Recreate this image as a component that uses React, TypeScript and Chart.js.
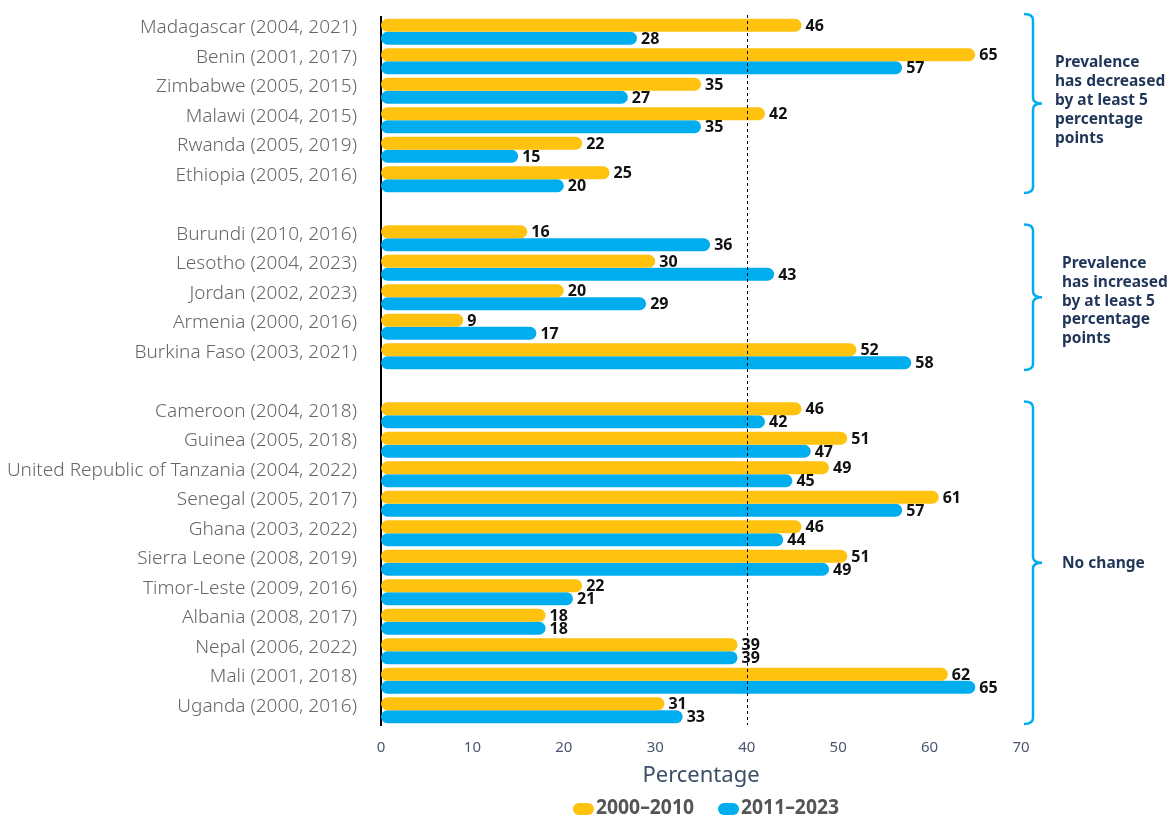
import React, { useEffect, useRef } from 'react';
import { Chart, registerables } from 'chart.js';

Chart.register(...registerables);

const categories = [
  'Madagascar (2004, 2021)',
  'Benin (2001, 2017)',
  'Zimbabwe (2005, 2015)',
  'Malawi (2004, 2015)',
  'Rwanda (2005, 2019)',
  'Ethiopia (2005, 2016)',
  '',
  'Burundi (2010, 2016)',
  'Lesotho (2004, 2023)',
  'Jordan (2002, 2023)',
  'Armenia (2000, 2016)',
  'Burkina Faso (2003, 2021)',
  '',
  'Cameroon (2004, 2018)',
  'Guinea (2005, 2018)',
  'United Republic of Tanzania (2004, 2022)',
  'Senegal (2005, 2017)',
  'Ghana (2003, 2022)',
  'Sierra Leone (2008, 2019)',
  'Timor-Leste (2009, 2016)',
  'Albania (2008, 2017)',
  'Nepal (2006, 2022)',
  'Mali (2001, 2018)',
  'Uganda (2000, 2016)',
];

const series1Label = '2000–2010';
const series1 = [46, 65, 35, 42, 22, 25, null, 16, 30, 20, 9, 52, null, 46, 51, 49, 61, 46, 51, 22, 18, 39, 62, 31];

const series2Label = '2011–2023';
const series2 = [28, 57, 27, 35, 15, 20, null, 36, 43, 29, 17, 58, null, 42, 47, 45, 57, 44, 49, 21, 18, 39, 65, 33];

const xMin = 0;
const xMax = 70;
const xStep = 10;
const xTitle = 'Percentage';
const referenceValue = 40;

const groupRanges = [
  [0, 5],
  [7, 11],
  [13, 23],
];
const groupTexts = [
  ['Prevalence', 'has decreased', 'by at least 5', 'percentage', 'points'],
  ['Prevalence', 'has increased', 'by at least 5', 'percentage', 'points'],
  ['No change'],
];

const YELLOW = '#FFC20E';
const BLUE = '#00AEEF';
const NAVY = '#1f3659';

const overlayPlugin = {
  id: 'overlay',
  afterDatasetsDraw(chart: any) {
    const { ctx, chartArea, scales } = chart;
    const x = scales.x;
    const y = scales.y;

    // reference dashed line
    ctx.save();
    const rx = Math.round(x.getPixelForValue(referenceValue)) + 0.5;
    ctx.strokeStyle = '#000';
    ctx.lineWidth = 1;
    ctx.setLineDash([3, 3]);
    ctx.beginPath();
    ctx.moveTo(rx, chartArea.top - 2);
    ctx.lineTo(rx, chartArea.bottom);
    ctx.stroke();
    ctx.restore();

    // value labels
    ctx.save();
    ctx.font = 'bold 16px "Noto Sans"';
    ctx.fillStyle = '#111';
    ctx.textAlign = 'left';
    ctx.textBaseline = 'middle';
    chart.data.datasets.forEach((ds: any, di: number) => {
      const meta = chart.getDatasetMeta(di);
      meta.data.forEach((el: any, i: number) => {
        const v = ds.data[i];
        if (v === null || v === undefined) return;
        ctx.fillText(String(v), el.x + 4, el.y + 1);
      });
    });
    ctx.restore();

    // braces + group texts
    ctx.save();
    const step = y.getPixelForValue(1) - y.getPixelForValue(0);
    groupRanges.forEach((rg, gi) => {
      const top = y.getPixelForValue(rg[0]) - step * 0.47 - (gi === 0 ? 4 : 0);
      const bot = y.getPixelForValue(rg[1]) + step * 0.47;
      const mid = (top + bot) / 2;
      const bx = chartArea.right + 12;
      const r = 6;
      ctx.strokeStyle = BLUE;
      ctx.lineWidth = 2.5;
      ctx.setLineDash([]);
      ctx.beginPath();
      ctx.moveTo(bx - 9, top);
      ctx.quadraticCurveTo(bx, top, bx, top + r);
      ctx.lineTo(bx, mid - r);
      ctx.quadraticCurveTo(bx, mid, bx + 9, mid);
      ctx.quadraticCurveTo(bx, mid, bx, mid + r);
      ctx.lineTo(bx, bot - r);
      ctx.quadraticCurveTo(bx, bot, bx - 9, bot);
      ctx.stroke();

      const lines = groupTexts[gi];
      const lh = 18.8;
      ctx.font = 'bold 15.5px "Noto Sans"';
      ctx.fillStyle = NAVY;
      ctx.textAlign = 'left';
      ctx.textBaseline = 'middle';
      const tx = gi === 0 ? bx + 22 : bx + 29;
      const startY = mid - ((lines.length - 1) * lh) / 2 + (gi === 0 ? -3 : gi === 1 ? 4 : 1);
      lines.forEach((ln, li) => ctx.fillText(ln, tx, startY + li * lh));
    });
    ctx.restore();

    // legend, centred under the plot area
    ctx.save();
    const items = [
      { label: series1Label, color: YELLOW },
      { label: series2Label, color: BLUE },
    ];
    const squeeze = 0.92;
    ctx.font = 'bold 21px "Noto Sans"';
    ctx.textBaseline = 'middle';
    ctx.textAlign = 'left';
    const mw = 21;
    const mh = 12;
    const gapText = 2;
    const gapItem = 24;
    const widths = items.map((it) => ctx.measureText(it.label).width * squeeze);
    const total = widths.reduce((a, w) => a + mw + gapText + w, 0) + gapItem * (items.length - 1);
    let lx = (chartArea.left + chartArea.right) / 2 + 5 - total / 2;
    const ly = 808;
    items.forEach((it, k) => {
      ctx.fillStyle = it.color;
      ctx.beginPath();
      (ctx as any).roundRect(lx, ly - mh / 2 + 1, mw, mh, mh / 2);
      ctx.fill();
      ctx.fillStyle = '#555';
      ctx.save();
      ctx.translate(lx + mw + gapText, ly);
      ctx.scale(squeeze, 1);
      ctx.fillText(it.label, 0, 0);
      ctx.restore();
      lx += mw + gapText + widths[k] + gapItem;
    });
    ctx.restore();
  },
};

export default function App() {
  const canvasRef = useRef<HTMLCanvasElement | null>(null);

  useEffect(() => {
    if (!canvasRef.current) return;
    const chart = new Chart(canvasRef.current, {
      type: 'bar',
      data: {
        labels: categories,
        datasets: [
          {
            label: series1Label,
            data: series1,
            backgroundColor: YELLOW,
            borderRadius: 7,
            borderSkipped: false,
            barPercentage: 1,
            categoryPercentage: 0.88,
          },
          {
            label: series2Label,
            data: series2,
            backgroundColor: BLUE,
            borderRadius: 7,
            borderSkipped: false,
            barPercentage: 1,
            categoryPercentage: 0.88,
          },
        ],
      },
      options: {
        indexAxis: 'y',
        animation: false,
        responsive: true,
        maintainAspectRatio: false,
        layout: { padding: { top: 17, right: 149, bottom: 0, left: 0 } },
        plugins: {
          legend: { display: false },
          tooltip: { enabled: false },
        },
        scales: {
          x: {
            min: xMin,
            max: xMax,
            grid: { display: false, drawTicks: true, tickLength: 12 },
            border: { display: false },
            ticks: {
              stepSize: xStep,
              padding: 2,
              color: '#4a5670',
              font: { family: '"Noto Sans"', size: 15 },
            },
            title: {
              display: true,
              text: xTitle,
              color: '#3c4d66',
              font: { family: '"Noto Sans"', size: 22 },
              padding: { top: 4, bottom: 27 },
            },
            afterFit: (s: any) => {
              s.height = 91;
            },
          },
          y: {
            grid: { display: false, drawTicks: true, tickLength: 22 },
            border: { display: true, color: '#000', width: 2 },
            ticks: {
              padding: 2,
              labelOffset: -4,
              color: '#666',
              font: { family: '"Noto Sans"', size: 19, weight: 300 },
              autoSkip: false,
            },
            afterFit: (s: any) => {
              s.width = 381;
            },
          },
        },
      },
      plugins: [overlayPlugin],
    });
    return () => chart.destroy();
  }, []);

  return (
    <div style={{ position: 'fixed', left: 0, top: 0, width: 1170, height: 816, background: '#fff' }}>
      <canvas ref={canvasRef} />
    </div>
  );
}
